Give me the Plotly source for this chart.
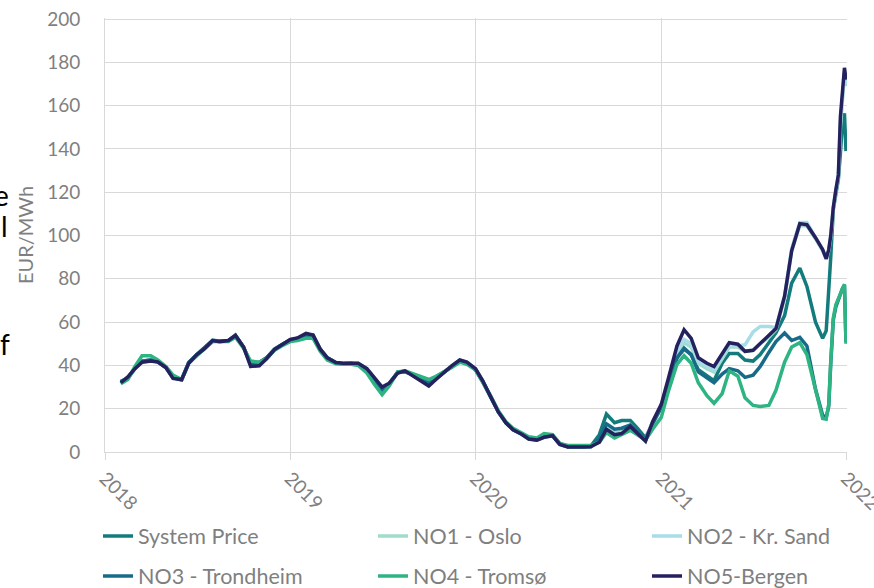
import plotly.graph_objects as go

# semi-monthly sample dates, denser through the December 2021 spike
dates = [f"{y}-{m:02d}-{d}" for y in range(2018, 2022) for m in range(1, 13) for d in ("01", "15")]
dates = [d for d in dates if "2018-02-01" <= d <= "2021-11-15"]
dates += ["2021-11-22", "2021-11-27", "2021-12-01", "2021-12-06", "2021-12-11",
          "2021-12-16", "2021-12-20", "2021-12-24", "2021-12-28", "2021-12-31"]

system_price = [
    32.5, 34, 38.5, 42, 42.5, 41.8, 39, 34.5, 33.5, 41.5, 45, 47.8, 51.5, 51.3, 51.2, 53.5, 48.5, 41, 41.5, 43.5, 47.5, 49.5,
    51.5, 52, 53.5, 53.5, 47.5, 43.5, 41.2, 40.8, 41, 40.5, 37.8, 33, 28.5, 31.5, 37, 37, 35.5, 34, 33, 34.5, 37.2, 39.5, 42, 41,
    38, 32.5, 25, 18.5, 13.5, 10.5, 8.5, 6.3, 6, 7.5, 7.5, 4, 2.5, 2.4, 2.4, 2.6, 8, 17.5, 13.5, 14.5, 14.5, 11, 6.5, 13.5,
    21, 32, 43.5, 47.5, 45, 38, 35, 33, 41, 45.5, 45.5, 42.5, 42, 45, 50.5, 55, 63, 78, 85, 76.5, 60, 52.5,
    56, 73, 90, 112, 120, 126, 138, 152, 156.5, 139,
]
no1_oslo = [
    32.3, 34.3, 38.6, 41.8, 42.2, 41.7, 39, 34.3, 33.3, 41.2, 45, 47.7, 51.5, 51.2, 51.3, 53.7, 48.5, 40, 40.5, 43, 47.3, 49.4,
    51.7, 52.3, 54.2, 53.8, 47.5, 43.5, 41.3, 40.9, 41.1, 40.8, 38.3, 34, 29.7, 31.7, 36.7, 37.4, 35.2, 33, 31.3, 34, 37, 39.6, 42.4, 41.4,
    38.4, 33, 25, 18.5, 13.5, 10.3, 8.2, 6, 5.6, 6.9, 7.5, 3.6, 2.3, 2.3, 2.3, 2.4, 5.5, 11.5, 9, 9.5, 12.5, 9, 5.2, 13.8,
    21, 32.5, 45, 50.5, 48.5, 41, 38.5, 37, 43, 48.5, 48.5, 46.5, 47, 50, 53, 56.5, 71, 93, 104.5, 104.5, 98.5, 93,
    89, 93, 99, 112, 120, 127, 150, 165, 175, 169,
]
no2_kr_sand = [
    32.5, 34.5, 38.5, 41.5, 42, 41.7, 39, 34.2, 33.2, 41, 45, 47.6, 51.5, 51.2, 51.2, 53.8, 48.5, 39.5, 40.2, 42.8, 47.2, 49.3,
    51.8, 52.5, 54.5, 54, 47.5, 43.5, 41.3, 41, 41.2, 41, 38.5, 34.3, 30, 31.8, 36.5, 37.5, 35, 32.7, 30.8, 33.7, 37, 39.7, 42.5, 41.5,
    38.5, 33, 25, 18.5, 13.5, 10.3, 8.2, 6, 5.5, 6.8, 7.5, 3.5, 2.3, 2.3, 2.3, 2.4, 5, 10.5, 8, 8.5, 11.8, 8.5, 5, 14,
    21.5, 33, 46, 52, 50, 42, 39.5, 38, 44, 49.5, 49, 49.5, 55.5, 58, 58, 57.5, 72, 94, 106, 106, 99, 93.5,
    89.3, 93.5, 100, 113, 121, 128, 152, 167, 176, 170,
]
no3_trondheim = [
    32.5, 34.2, 38.8, 42, 42.5, 41.8, 39, 34.3, 33.3, 41.3, 45, 47.8, 51.6, 51.3, 51.5, 54, 48.5, 40.5, 41, 43.3, 47.5, 49.5,
    51.8, 52.3, 54, 53.8, 47.5, 43.5, 41.2, 40.8, 41, 40.5, 38, 33.5, 29, 31.5, 37, 37.2, 35.5, 33.5, 32, 34, 37, 39.5, 42.2, 41.2,
    38.2, 32.8, 25, 18.5, 13.5, 10.4, 8.3, 6.1, 5.7, 7, 7.5, 3.7, 2.4, 2.3, 2.3, 2.5, 6, 13, 10.5, 11, 12.5, 9.5, 5.5, 13,
    20.5, 32, 43.5, 48, 45, 37, 34, 32, 36, 38.5, 37.5, 34.5, 35.5, 39.5, 46, 51, 55, 51.5, 53, 49, 29, 17,
    16, 21, 41, 61, 67, 70.5, 72.5, 75.5, 77, 51,
]
no4_tromso = [
    31.5, 33.5, 39.5, 44.5, 44.5, 42.5, 39.5, 35.5, 33.5, 41, 44.5, 47.5, 51, 51, 51, 53, 48, 42, 41.5, 43, 47, 49,
    51, 51.5, 52.5, 52.5, 46.5, 42.5, 40.8, 40.5, 40.5, 40, 36.5, 31.5, 26.5, 30.5, 37, 37.5, 36, 34.5, 33.5, 35, 37, 39, 41.5, 40.5,
    38, 32.5, 25.5, 19, 14, 11, 9, 7, 6.5, 8.5, 8, 4, 3, 3, 2.8, 3, 4.5, 9, 6.5, 8, 10, 8, 5.5, 10.5,
    16, 28, 40.5, 44.5, 41, 32, 26, 22.5, 27, 37.5, 35, 25, 21.5, 21, 21.5, 28.5, 41.5, 48.5, 50.5, 45, 29.5, 15.5,
    15.2, 22, 42, 62, 68, 71, 73, 76, 77.5, 50,
]
no5_bergen = [
    32, 34.7, 38.5, 41.5, 42, 41.6, 39, 34, 33.5, 41, 45, 47.5, 51.5, 51, 51.5, 53.8, 48.5, 39.5, 39.8, 43, 47.3, 49.3,
    52, 52.7, 54.8, 54, 47.5, 43.5, 41.3, 41, 41.2, 41, 38.5, 34.5, 30, 31.8, 36.5, 37.5, 35, 32.5, 30.5, 33.5, 37, 39.8, 42.5, 41.5,
    38.5, 33, 25, 18.5, 13.5, 10.3, 8.2, 6, 5.5, 6.8, 7.5, 3.5, 2.3, 2.3, 2.3, 2.4, 4.5, 10.5, 8, 8.5, 11.8, 8.5, 5, 14,
    22, 34, 49, 56.5, 52.5, 43.5, 41, 39.5, 45, 50.5, 49.8, 46.5, 47, 50, 53.5, 57, 72, 93, 105.5, 105, 99, 93.5,
    89.3, 93.5, 100, 113, 121, 128, 155, 168, 177.5, 172,
]

# name, values, colour, legend slot (3 columns x 2 rows)
series = [
    ("System Price", system_price, "#137B7B", "legend"),
    ("NO1 - Oslo", no1_oslo, "#A0DCCB", "legend2"),
    ("NO2 - Kr. Sand", no2_kr_sand, "#A6DDE8", "legend3"),
    ("NO3 - Trondheim", no3_trondheim, "#176B88", "legend4"),
    ("NO4 - Tromsø", no4_tromso, "#2EB483", "legend5"),
    ("NO5-Bergen", no5_bergen, "#25215E", "legend6"),
]

grey = "#7F7F7F"
grid = "#D9D9D9"
font_family = "Lato, 'Open Sans', sans-serif"

fig = go.Figure()
for name, values, color, legend in series:
    fig.add_trace(go.Scatter(x=dates, y=values, mode="lines", name=name, legend=legend,
                             showlegend=True, line=dict(color=color, width=3.5)))

# one single-entry legend per slot, placed against the whole figure so they don't push margins
legend_cols = [98 / 874, 373 / 874, 647 / 874]
legend_rows = [1 - 536 / 588, 1 - 576 / 588]
legend_layout = {}
for i, key in enumerate(["legend", "legend2", "legend3", "legend4", "legend5", "legend6"]):
    legend_layout[key] = dict(
        orientation="h", xref="container", yref="container",
        x=legend_cols[i % 3], y=legend_rows[i // 3],
        xanchor="left", yanchor="middle",
        font=dict(size=21.5, color=grey, family=font_family),
        bgcolor="rgba(0,0,0,0)", borderwidth=0,
    )

fig.update_layout(
    width=874, height=588,
    margin=dict(l=105, r=27, t=18, b=136),
    paper_bgcolor="white", plot_bgcolor="white",
    font=dict(family=font_family, color=grey),
    showlegend=True,
    **legend_layout,
    xaxis=dict(
        type="date", range=["2018-01-01", "2022-01-02"], automargin=False,
        tickvals=["2018-01-01", "2019-01-01", "2020-01-01", "2021-01-01", "2022-01-01"],
        ticktext=["2018", "2019", "2020", "2021", "2022"],
        tickangle=45, tickfont=dict(size=19, color=grey), ticklabeloverflow="allow",
        showgrid=True, gridcolor=grid, gridwidth=1,
        showline=True, linecolor=grid, linewidth=1,
        ticks="outside", ticklen=7, tickcolor=grid,
        zeroline=False,
    ),
    yaxis=dict(
        range=[0, 200.5], automargin=False,
        tickvals=[0, 20, 40, 60, 80, 100, 120, 140, 160, 180, 200],
        tickfont=dict(size=19, color=grey),
        showgrid=True, gridcolor=grid, gridwidth=1,
        showline=True, linecolor=grid, linewidth=1,
        zeroline=False, ticklabelstandoff=20,
        title=dict(text="EUR/MWh", font=dict(size=20, color=grey), standoff=8),
    ),
)

# clipped slide text bleeding in at the left edge
for txt, px, py in [("e", 11, 195), ("l", 10, 226), ("f", 12, 344)]:
    fig.add_annotation(text=txt, xref="paper", yref="paper",
                       x=(px - 105) / 742, y=(452 - py) / 434,
                       xanchor="right", yanchor="middle", showarrow=False,
                       font=dict(size=28, color="black", family=font_family))

# drop the browser's default body margin so the figure sits at the window's corner
fig.write_html("out.html", config={"displayModeBar": False},
               post_script="document.body.style.margin = '0';")
